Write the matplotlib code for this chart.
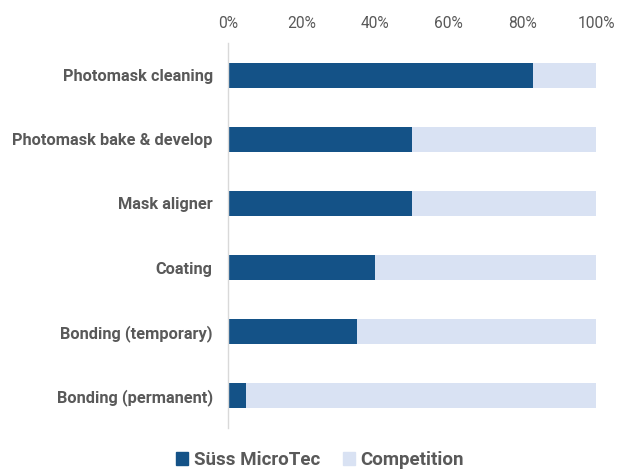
import matplotlib
matplotlib.use("Agg")
import matplotlib.pyplot as plt
from matplotlib.ticker import FuncFormatter
from matplotlib.patches import Patch

plt.rcParams['font.family'] = ['Roboto', 'DejaVu Sans']

categories = ["Photomask cleaning", "Photomask bake & develop", "Mask aligner",
              "Coating", "Bonding (temporary)", "Bonding (permanent)"]
suss = [83, 50, 50, 40, 35, 5]
competition = [100 - v for v in suss]
x_ticks = [0, 20, 40, 60, 80, 100]

dark = "#145287"
light = "#D9E2F3"
text_gray = "#595959"

fig = plt.figure(figsize=(6.28, 4.70), dpi=100)
ax = fig.add_axes([228 / 628, 1 - 428 / 470, (596 - 228) / 628, 385 / 470])

y = list(range(len(categories)))
ax.barh(y, suss, height=0.39, color=dark, label="Süss MicroTec")
ax.barh(y, competition, left=suss, height=0.39, color=light, label="Competition")

ax.set_ylim(len(categories) - 0.5, -0.5)
ax.set_xlim(0, 100)
ax.set_yticks(y)
ax.set_yticklabels(categories, fontsize=11.8, fontweight="bold", color=text_gray)
ax.set_xticks(x_ticks)
ax.xaxis.set_major_formatter(FuncFormatter(lambda v, p: f"{v:.0f}%"))
ax.xaxis.tick_top()
ax.tick_params(axis="x", length=0, pad=9, labelsize=11.2, labelcolor=text_gray)
ax.tick_params(axis="y", length=0, pad=11)

for s in ["top", "right", "bottom"]:
    ax.spines[s].set_visible(False)
ax.spines["left"].set_color("#D9D9D9")
ax.spines["left"].set_linewidth(1)

handles = [Patch(color=dark, label="Süss MicroTec"), Patch(color=light, label="Competition")]
fig.legend(handles=handles, loc="center", bbox_to_anchor=(320 / 628, 1 - 460 / 470),
           ncol=2, frameon=False, handlelength=0.65, handleheight=0.65, handletextpad=0.3,
           columnspacing=1.2, prop={"weight": "bold", "size": 13.5}, labelcolor=text_gray)

fig.savefig("out.png", dpi=100)
